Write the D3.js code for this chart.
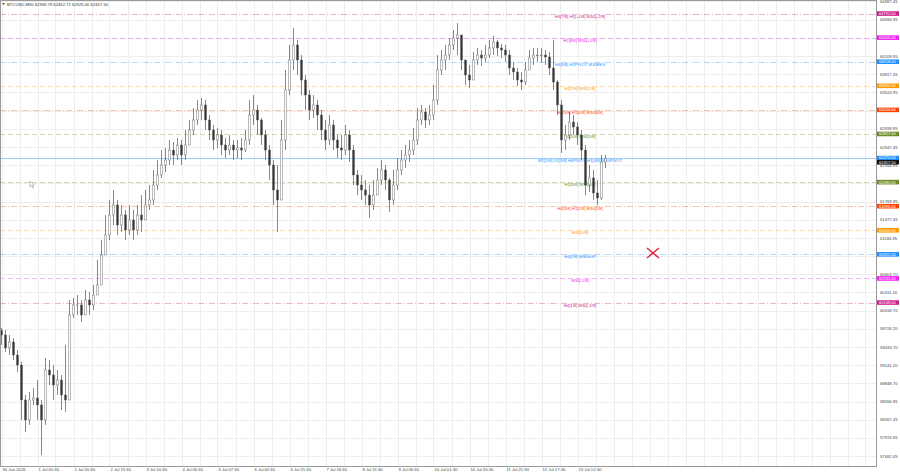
<!DOCTYPE html>
<html>
<head>
<meta charset="utf-8">
<script src="https://cdn.jsdelivr.net/npm/d3@7"></script>
<style>
  html, body { margin: 0; padding: 0; background: #fff; }
  svg { display: block; font-family: "Liberation Sans", Arial, sans-serif; }
</style>
</head>
<body>
<div id="chart"></div>
<script>
// BTCUSD M30, one candle per 4 bars
const symbolInfo = "BTCUSD,M30 62369.79 62452.71 62325.00 62457.50";
const firstOpen = 59700;
const closes = [
  59627, 59418, 59514, 59305, 59144, 58582, 58261, 58582, 58614, 58502,
  58261, 59064, 58984, 58823, 58903, 58662, 58582, 59948, 60109, 60109,
  59948, 60189, 60109, 60269, 60430, 60912, 61234, 61555, 61716, 61394,
  61555, 61314, 61475, 61314, 61555, 61475, 61716, 61796, 62037, 62198,
  62358, 62439, 62599, 62519, 62680, 62519, 62680, 62921, 63082, 63242,
  63323, 63082, 62921, 62760, 62841, 62680, 62599, 62680, 62599, 62632,
  62599, 62760, 63162, 63242, 63082, 62841, 62599, 62358, 61957, 61796,
  62760, 63564, 64046, 64287, 64046, 63724, 63483, 63242, 63323, 63162,
  62921, 62760, 63001, 62760, 62632, 62599, 62841, 62599, 62198, 62037,
  61957, 61876, 61716, 61876, 62117, 62278, 62117, 61796, 62037, 62278,
  62439, 62519, 62599, 62760, 63082, 63210, 63082, 63162, 63403, 63885,
  64046, 64126, 64287, 64399, 64448, 64046, 63805, 63724, 64046, 64126,
  64078, 64126, 64239, 64335, 64239, 64206, 64126, 63917, 63853, 63724,
  63692, 63885, 64078, 64126, 64126, 64126, 64094, 63917, 63692, 63323,
  62760, 62841, 63049, 62969, 62841, 62599, 62037, 62150, 61909, 61828,
  62407, 62457.5
];
const highs = [
  59739, 59707, 59627, 59578, 59385, 59193, 58662, 58711, 58775, 58903,
  58582, 59257, 59225, 59144, 59064, 58984, 59466, 60189, 60221, 60269,
  60189, 60350, 60318, 60430, 60832, 61153, 61555, 61796, 61957, 61796,
  61716, 61635, 61716, 61635, 61716, 61876, 61957, 62037, 62278, 62439,
  62599, 62632, 62760, 62728, 62792, 62760, 62921, 63082, 63274, 63403,
  63435, 63403, 63162, 63001, 62953, 62921, 62792, 62841, 62760, 62760,
  62792, 62921, 63403, 63483, 63323, 63114, 62921, 62680, 62439, 62358,
  63082, 63885, 64287, 64560, 64367, 64126, 63805, 63564, 63483, 63403,
  63242, 63082, 63162, 63082, 62841, 62841, 63001, 62921, 62680, 62278,
  62198, 62117, 62037, 62117, 62310, 62439, 62358, 62150, 62278, 62471,
  62599, 62680, 62760, 62953, 63274, 63323, 63274, 63323, 63644, 64126,
  64206, 64287, 64399, 64528, 64640, 64367, 64046, 63965, 64174, 64239,
  64206, 64287, 64367, 64432, 64367, 64303, 64287, 64206, 64014, 63917,
  63853, 64014, 64206, 64239, 64239, 64239, 64206, 64174, 64367, 63724,
  63403, 63001, 63210, 63162, 63049, 62921, 62680, 62358, 62278, 62117,
  62519, 62519
];
const lows = [
  59466, 59353, 59305, 59225, 59032, 58261, 58068, 58180, 58502, 58261,
  57698, 58180, 58823, 58582, 58662, 58421, 58389, 59385, 59900, 59948,
  59835, 59996, 59948, 60028, 60269, 60751, 60993, 61153, 61394, 61234,
  61282, 61153, 61234, 61153, 61234, 61282, 61475, 61635, 61716, 61957,
  62150, 62246, 62358, 62358, 62439, 62358, 62439, 62680, 62841, 63001,
  63082, 62921, 62760, 62599, 62632, 62519, 62471, 62519, 62439, 62471,
  62439, 62567, 62680, 63001, 62841, 62680, 62439, 62117, 61716, 61282,
  61796, 62599, 63483, 63885, 63805, 63483, 63242, 63082, 63114, 62921,
  62760, 62599, 62680, 62599, 62471, 62439, 62519, 62407, 62037, 61876,
  61796, 61716, 61507, 61635, 61876, 62037, 61957, 61603, 61716, 61957,
  62198, 62310, 62407, 62519, 62680, 63001, 62953, 63001, 63082, 63323,
  63805, 63885, 64046, 64206, 64126, 63885, 63644, 63596, 63724, 63965,
  63949, 64014, 64078, 64126, 64110, 64078, 64014, 63805, 63724, 63628,
  63564, 63644, 63885, 63965, 64014, 63998, 63965, 63805, 63564, 63162,
  62551, 62599, 62760, 62841, 62680, 62439, 61876, 61925, 61796, 61716,
  61796, 62310
];

// bottom axis
const timeLabels = ["30 Jun 2026", "1 Jul 01:30", "1 Jul 20:30", "2 Jul 15:30", "3 Jul 10:30",
  "4 Jul 05:30", "5 Jul 07:30", "6 Jul 02:30", "6 Jul 21:30", "7 Jul 16:30", "8 Jul 11:30",
  "9 Jul 06:30", "10 Jul 01:30", "10 Jul 20:30", "11 Jul 21:30", "12 Jul 17:30", "13 Jul 12:30"];
const timeLabelBars = [0, 9, 18, 27, 36, 45, 54, 63, 72, 81, 90, 99, 108, 117, 126, 135, 144];

// right axis
const priceTicks = [57682.45, 57974.95, 58267.45, 58556.95, 58848.70, 59141.20, 59433.70,
  59726.20, 60018.70, 60311.20, 60603.70, 60896.20, 61184.95, 61477.45, 61769.95, 62062.45,
  62354.95, 62647.45, 62939.95, 63232.45, 63524.95, 63817.45, 64109.95, 64402.45, 64694.95, 64987.45];

// murrey levels
const levelPrices = [64792, 64405, 64018, 63631, 63244, 62857, 62470, 62083, 61696, 61309, 60922, 60535, 60148];
const levelTexts = [
  "H4[7/8] H1[+1/8] M30[+2/8]",
  "H1[8/8] M30[+1/8]",
  "H4[6/8] H1PIVOT M30RES",
  "H1[7/8] M30[7/8]",
  "H4[5/8] H1[6/8] M30[6/8]",
  "H1[5/8] M30[5/8]",
  "W1[1/8] D1[3/8] H4PIVOT H1[4/8] M30PIVOT",
  "H1[3/8] M30[3/8]",
  "H4[3/8] H1[2/8] M30[2/8]",
  "M30[1/8]",
  "H4[2/8] M30SUP",
  "M30[-1/8]",
  "H4[1/8] M30[-2/8]"
];
const lastPrice = 62457.50;

const levelColor = ["#d0208c", "#f020f0", "#1e90ff", "#ff9900", "#ff4500", "#6b8e23", "#1e90ff",
  "#6b8e23", "#ff4500", "#ff9900", "#1e90ff", "#f020f0", "#d0208c"];

const W = 900, H = 474;
const plotR = 876, plotB = 466;
const fs = 4.2;

const svg = d3.select("#chart").append("svg").attr("width", W).attr("height", H);

const x = d3.scaleLinear().domain([0, closes.length - 1]).range([1.5, 605.5]);
const y = d3.scaleLinear().domain([57521, 65010]).range([plotB, 0]);

// grid
const grid = svg.append("g").attr("stroke", "#eeeeee").attr("stroke-width", 1);
d3.range(0, 49).forEach(k => {
  const gx = Math.round(x(k * 4.5)) + 0.5;
  if (gx < plotR) grid.append("line").attr("x1", gx).attr("x2", gx).attr("y1", 0).attr("y2", plotB);
});
priceTicks.forEach(v => {
  const gy = Math.round(y(v)) + 0.5;
  grid.append("line").attr("x1", 0).attr("x2", plotR).attr("y1", gy).attr("y2", gy);
});

// levels
const lv = svg.append("g");
levelPrices.forEach((p, i) => {
  const ly = Math.round(y(p)) + 0.5;
  lv.append("line").attr("x1", 0).attr("x2", plotR).attr("y1", ly).attr("y2", ly)
    .attr("stroke", levelColor[i]).attr("stroke-opacity", i === 6 ? 0.5 : 0.38).attr("stroke-width", 0.9)
    .attr("stroke-dasharray", i === 6 ? null : (i % 2 ? "5,3" : "6,2,1,2"));
  lv.append("text").attr("x", 580).attr("y", ly + 3.8).attr("text-anchor", "middle")
    .attr("font-size", fs).attr("fill", levelColor[i]).text(levelTexts[i]);
});

// candles
const opens = closes.map((c, i) => i === 0 ? firstOpen : closes[i - 1]);
const cg = svg.append("g");
closes.forEach((c, i) => {
  const o = opens[i], cx = x(i);
  cg.append("line").attr("x1", cx).attr("x2", cx).attr("y1", y(highs[i])).attr("y2", y(lows[i]))
    .attr("stroke", "#555").attr("stroke-width", 0.7);
  const top = y(Math.max(o, c)), bh = Math.max(0.8, Math.abs(y(o) - y(c)));
  cg.append("rect").attr("x", cx - 1).attr("y", top).attr("width", 2).attr("height", bh)
    .attr("fill", c < o ? "#333" : "#fff").attr("stroke", "#555").attr("stroke-width", 0.4);
});

// frame
svg.append("rect").attr("x", 0.5).attr("y", 0.5).attr("width", plotR).attr("height", plotB)
  .attr("fill", "none").attr("stroke", "#999");

// right axis labels; the terminal hides a label sitting under a level tag
const tagYs = levelPrices.map(p => y(p));
const ax = svg.append("g").attr("font-size", fs).attr("fill", "#444");
priceTicks.forEach(v => {
  if (tagYs.some(t => Math.abs(t - y(v)) < 2.5)) return;
  ax.append("text").attr("x", 880).attr("y", y(v) + 1.6).text(v.toFixed(2));
});

// level tags on the axis
function tag(cy, fill, label) {
  svg.append("rect").attr("x", 877).attr("y", cy - 2.3).attr("width", 22).attr("height", 4.6).attr("fill", fill);
  svg.append("text").attr("x", 879).attr("y", cy + 1.4).attr("font-size", 4).attr("fill", "#fff").text(label);
}
levelPrices.forEach((p, i) => tag(y(p), levelColor[i], p.toFixed(2)));
tag(y(levelPrices[6]) + 4.2, "#111", lastPrice.toFixed(2));

// time axis
const tx = svg.append("g").attr("font-size", fs).attr("fill", "#444");
timeLabels.forEach((t, i) => {
  tx.append("text").attr("x", x(timeLabelBars[i]) + 1).attr("y", 471).text(t);
});

// header
svg.append("path").attr("d", "M2,3 L5,3 L3.5,5 Z").attr("fill", "#555");
svg.append("text").attr("x", 7).attr("y", 5.5).attr("font-size", fs).attr("fill", "#333").text(symbolInfo);

// red cross
svg.append("path").attr("d", "M647,248 L659,258 M659,248 L647,258")
  .attr("stroke", "#e8203c").attr("stroke-width", 1.5);

// mouse pointer
svg.append("path").attr("d", "M30,181 L30,187 L31.5,185.6 L32.8,188 L33.6,187.6 L32.4,185.2 L34.2,185 Z")
  .attr("fill", "#fff").attr("stroke", "#666").attr("stroke-width", 0.4);
</script>
</body>
</html>
